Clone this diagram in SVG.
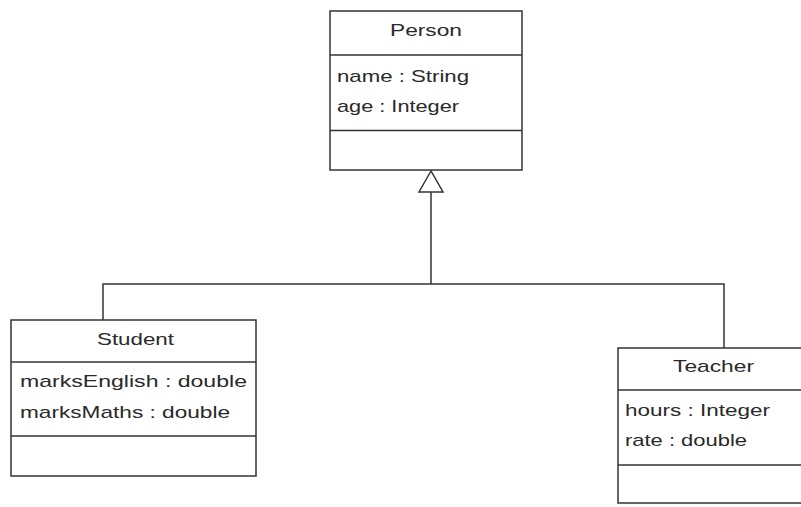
<svg xmlns="http://www.w3.org/2000/svg" width="801" height="507" viewBox="0 0 801 507">
<style>
.box{fill:#fff;stroke:#333;stroke-width:1.5}
.sep{stroke:#333;stroke-width:1.5;fill:none}
.t{font-family:"Liberation Sans",Arial,sans-serif;font-size:17px;fill:#2a2a2a}
.c{text-anchor:middle}
.edge{stroke:#333;stroke-width:1.5;fill:none}
.tri{fill:#fff;stroke:#333;stroke-width:1.5;stroke-linejoin:miter}
</style>
<rect width="801" height="507" fill="#fff"/>
<g id="connectors">
<path class="edge" d="M431 192 V284 M103 320 V284 H724 V348"/>
<polygon class="tri" points="431,171 419,192 443,192"/>
</g>
<g id="Person">
<rect class="box" x="330" y="11" width="192" height="159"/>
<line class="sep" x1="330" y1="55" x2="522" y2="55"/>
<line class="sep" x1="330" y1="130.5" x2="522" y2="130.5"/>
<text class="t c" x="426" y="35.5" textLength="72" lengthAdjust="spacingAndGlyphs">Person</text>
<text class="t" x="337" y="82" textLength="132" lengthAdjust="spacingAndGlyphs">name : String</text>
<text class="t" x="337" y="112" textLength="122" lengthAdjust="spacingAndGlyphs">age : Integer</text>
</g>
<g id="Student">
<rect class="box" x="11" y="320" width="245" height="156"/>
<line class="sep" x1="11" y1="362" x2="256" y2="362"/>
<line class="sep" x1="11" y1="436" x2="256" y2="436"/>
<text class="t c" x="135.5" y="345" textLength="77" lengthAdjust="spacingAndGlyphs">Student</text>
<text class="t" x="20" y="387" textLength="227" lengthAdjust="spacingAndGlyphs">marksEnglish : double</text>
<text class="t" x="20" y="418" textLength="210" lengthAdjust="spacingAndGlyphs">marksMaths : double</text>
</g>
<g id="Teacher">
<rect class="box" x="618" y="348" width="200" height="155"/>
<line class="sep" x1="618" y1="390" x2="818" y2="390"/>
<line class="sep" x1="618" y1="465" x2="818" y2="465"/>
<text class="t c" x="713.5" y="372" textLength="81" lengthAdjust="spacingAndGlyphs">Teacher</text>
<text class="t" x="625" y="416" textLength="145" lengthAdjust="spacingAndGlyphs">hours : Integer</text>
<text class="t" x="625" y="446" textLength="122" lengthAdjust="spacingAndGlyphs">rate : double</text>
</g>
</svg>
